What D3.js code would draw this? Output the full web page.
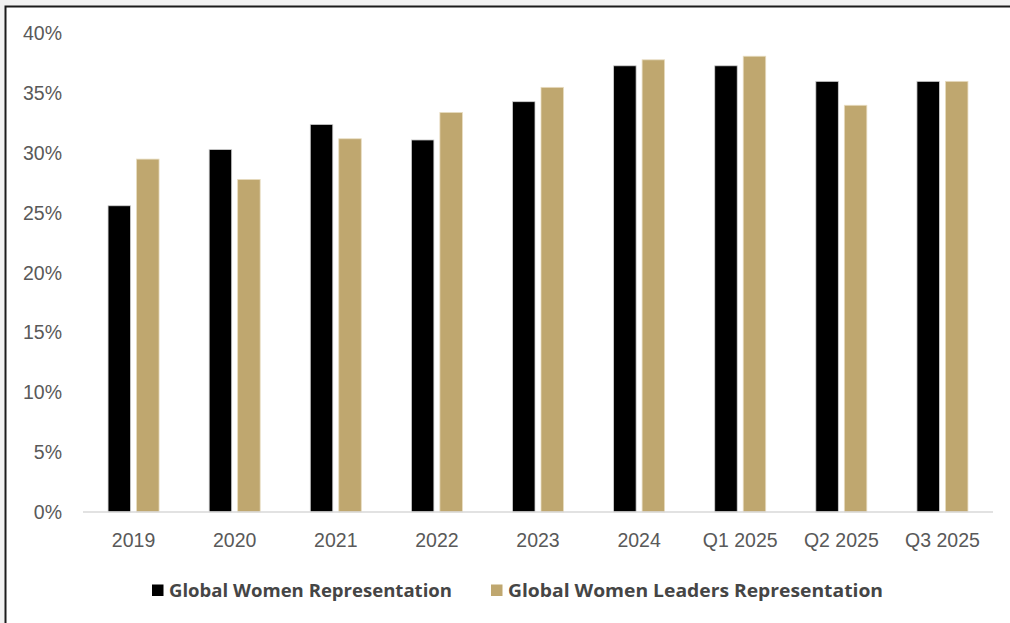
<!DOCTYPE html>
<html>
<head>
<meta charset="utf-8">
<script src="https://cdn.jsdelivr.net/npm/d3@7"></script>
<style>
  html, body { margin: 0; padding: 0; background: #f2f2f2; }
  svg { display: block; }
</style>
</head>
<body>
<svg id="chart" width="1010" height="623"></svg>
<script>
// Categories and series values (percent)
const categories = ["2019", "2020", "2021", "2022", "2023", "2024", "Q1 2025", "Q2 2025", "Q3 2025"];
const womenRepresentation = [25.6, 30.3, 32.4, 31.1, 34.3, 37.3, 37.3, 36.0, 36.0];
const womenLeadersRepresentation = [29.5, 27.8, 31.2, 33.4, 35.5, 37.8, 38.1, 34.0, 36.0];
const seriesNames = ["Global Women Representation", "Global Women Leaders Representation"];
const yTicks = [0, 5, 10, 15, 20, 25, 30, 35, 40];

const colors = ["#000000", "#bfa76f"];

const svg = d3.select("#chart");
const W = 1010, H = 623;

// Framed white panel
svg.append("rect")
  .attr("x", 5.5).attr("y", 6.5)
  .attr("width", W + 10).attr("height", H + 10)
  .attr("fill", "#ffffff")
  .attr("stroke", "#1c1c1c")
  .attr("stroke-width", 2);

const plot = { left: 83, right: 993, top: 33.5, bottom: 512 };

const x = d3.scaleBand()
  .domain(categories)
  .range([plot.left, plot.right])
  .paddingInner(0)
  .paddingOuter(0);

const y = d3.scaleLinear()
  .domain([0, 40])
  .range([plot.bottom, plot.top]);

const barW = 22.5, gap = 6;

// Bars
const series = [womenRepresentation, womenLeadersRepresentation];
series.forEach((vals, si) => {
  svg.append("g")
    .selectAll("rect")
    .data(vals)
    .join("rect")
    .attr("x", (d, i) => x(categories[i]) + x.bandwidth() / 2 + (si === 0 ? -gap / 2 - barW : gap / 2))
    .attr("y", d => y(d))
    .attr("width", barW)
    .attr("height", d => y(0) - y(d))
    .attr("fill", colors[si])
    .attr("stroke", si === 0 ? "#d0d0d0" : "#e8dcc0")
    .attr("stroke-width", 0.8);
});

// Baseline
svg.append("line")
  .attr("x1", plot.left).attr("x2", plot.right)
  .attr("y1", y(0)).attr("y2", y(0))
  .attr("stroke", "#d9d9d9")
  .attr("stroke-width", 1.5);

const tickFont = "'Liberation Sans', Arial, sans-serif";

// Y axis labels
const yAxis = d3.axisLeft(y)
  .tickValues(yTicks)
  .tickFormat(d => d + "%")
  .tickSize(0)
  .tickPadding(0);
const gy = svg.append("g")
  .attr("transform", `translate(62,0)`)
  .call(yAxis);
gy.attr("font-family", null).attr("font-size", null);
gy.select(".domain").remove();
gy.selectAll("text")
  .attr("fill", "#595959")
  .style("font-family", tickFont)
  .style("font-size", "19.5px");

// X axis labels
const xAxis = d3.axisBottom(x).tickSize(0).tickPadding(0);
const gx = svg.append("g")
  .attr("transform", `translate(0,533.5)`)
  .call(xAxis);
gx.attr("font-family", null).attr("font-size", null);
gx.select(".domain").remove();
gx.selectAll("text")
  .attr("fill", "#595959")
  .style("font-family", tickFont)
  .style("font-size", "19.5px");

// Legend
const legendItems = [
  { name: seriesNames[0], color: colors[0], x: 152, len: 283 },
  { name: seriesNames[1], color: colors[1], x: 491, len: 375 }
];
const lg = svg.append("g");
legendItems.forEach(item => {
  lg.append("rect")
    .attr("x", item.x).attr("y", 584.5)
    .attr("width", 11.5).attr("height", 11.5)
    .attr("fill", item.color);
  lg.append("text")
    .attr("x", item.x + 17).attr("y", 596.7)
    .attr("fill", "#454545")
    .attr("textLength", item.len)
    .attr("lengthAdjust", "spacingAndGlyphs")
    .style("font-family", "'Open Sans', sans-serif")
    .style("font-weight", "700")
    .style("font-size", "18px")
    .text(item.name);
});
</script>
</body>
</html>
